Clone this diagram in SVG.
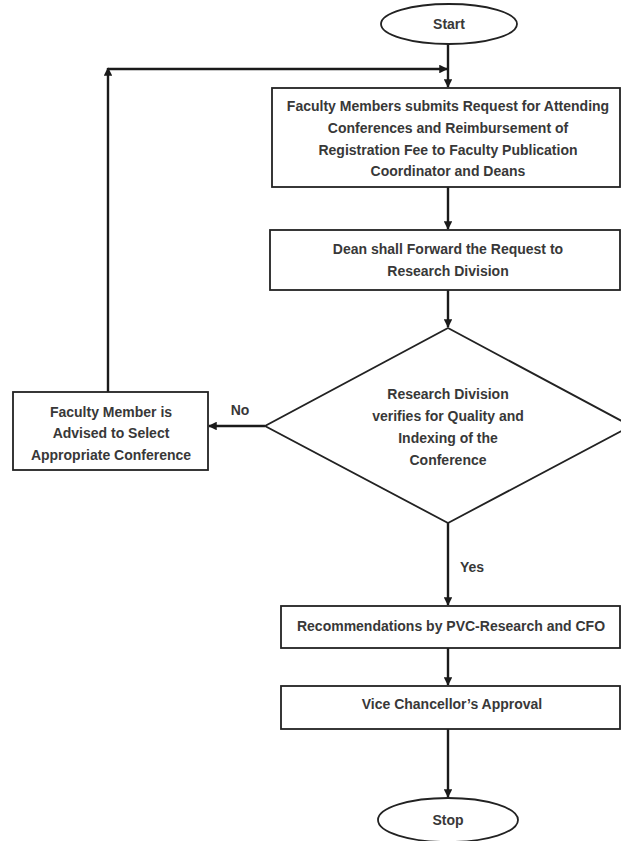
<svg xmlns="http://www.w3.org/2000/svg" width="621" height="841" viewBox="0 0 621 841">
  <style>
    .shape { fill: #ffffff; stroke: #222222; stroke-width: 1.8; }
    .label { font-family: "Liberation Sans", Arial, sans-serif; font-weight: bold; font-size: 14px; fill: #383838; text-anchor: middle; }
    .edge { fill: none; stroke: #1a1a1a; stroke-width: 2.4; }
  </style>
  <defs>
    <marker id="arrow" viewBox="0 0 10 10" refX="9" refY="5" markerWidth="3.6" markerHeight="3.6" orient="auto">
      <path d="M0,0 L10,5 L0,10 Z" fill="#1a1a1a"/>
    </marker>
  </defs>
  <rect width="621" height="841" fill="#ffffff"/>

  <g id="connectors">
    <line class="edge" x1="448" y1="44" x2="448" y2="87" marker-end="url(#arrow)"/>
    <line class="edge" x1="448" y1="187" x2="448" y2="229" marker-end="url(#arrow)"/>
    <line class="edge" x1="448" y1="290" x2="448" y2="327" marker-end="url(#arrow)"/>
    <line class="edge" x1="265" y1="426" x2="209" y2="426" marker-end="url(#arrow)"/>
    <line class="edge" x1="108" y1="392" x2="108" y2="68" marker-end="url(#arrow)"/>
    <line class="edge" x1="108" y1="69" x2="447" y2="69" marker-end="url(#arrow)"/>
    <line class="edge" x1="448" y1="523" x2="448" y2="605" marker-end="url(#arrow)"/>
    <line class="edge" x1="448" y1="648" x2="448" y2="685" marker-end="url(#arrow)"/>
    <line class="edge" x1="448" y1="729" x2="448" y2="797" marker-end="url(#arrow)"/>
    <text class="label" x="240" y="415">No</text>
    <text class="label" x="472" y="572">Yes</text>
  </g>

  <g id="start">
    <ellipse class="shape" cx="449" cy="24" rx="68" ry="20"/>
    <text class="label" x="449" y="29">Start</text>
  </g>

  <g id="submit-request">
    <rect class="shape" x="272" y="88" width="348" height="99"/>
    <text class="label" x="448" y="111">Faculty Members submits Request for Attending</text>
    <text class="label" x="448" y="133">Conferences and Reimbursement of</text>
    <text class="label" x="448" y="155">Registration Fee to Faculty Publication</text>
    <text class="label" x="448" y="176">Coordinator and Deans</text>
  </g>

  <g id="dean-forward">
    <rect class="shape" x="270" y="230" width="350" height="60"/>
    <text class="label" x="448" y="254">Dean shall Forward the Request to</text>
    <text class="label" x="448" y="276">Research Division</text>
  </g>

  <g id="verify">
    <polygon class="shape" points="448,328 631,426 448,523 265,426"/>
    <text class="label" x="448" y="399">Research Division</text>
    <text class="label" x="448" y="421">verifies for Quality and</text>
    <text class="label" x="448" y="443">Indexing of the</text>
    <text class="label" x="448" y="465">Conference</text>
  </g>

  <g id="advise-member">
    <rect class="shape" x="13" y="392" width="195" height="78"/>
    <text class="label" x="111" y="417">Faculty Member is</text>
    <text class="label" x="111" y="438">Advised to Select</text>
    <text class="label" x="111" y="460">Appropriate Conference</text>
  </g>

  <g id="recommendations">
    <rect class="shape" x="281" y="606" width="339" height="42"/>
    <text class="label" x="451" y="631">Recommendations by PVC-Research and CFO</text>
  </g>

  <g id="vc-approval">
    <rect class="shape" x="281" y="686" width="339" height="43"/>
    <text class="label" x="452" y="709">Vice Chancellor’s Approval</text>
  </g>

  <g id="stop">
    <ellipse class="shape" cx="448" cy="820" rx="70" ry="22"/>
    <text class="label" x="448" y="825">Stop</text>
  </g>
</svg>
